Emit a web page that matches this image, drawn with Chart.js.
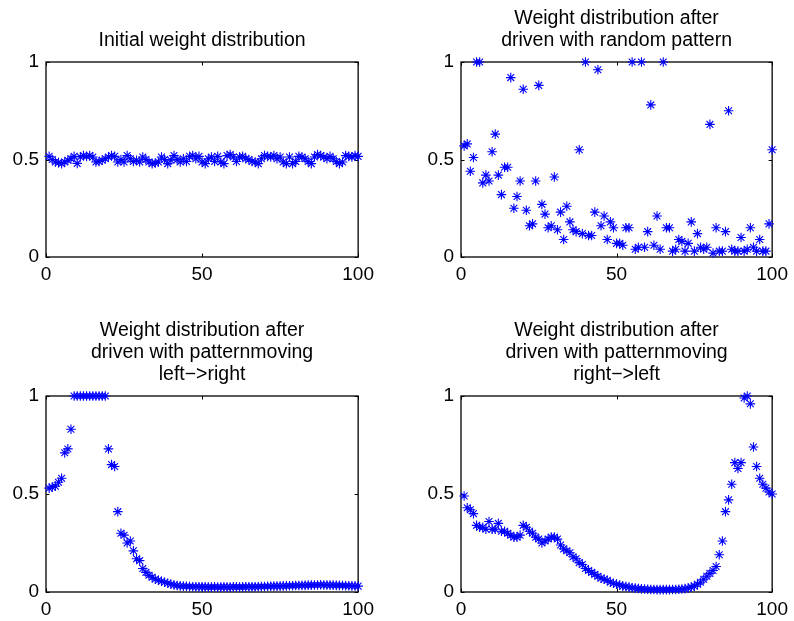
<!DOCTYPE html>
<html>
<head>
<meta charset="utf-8">
<script src="https://cdn.jsdelivr.net/npm/chart.js@4.4.0/dist/chart.umd.min.js"></script>
<style>
    body { margin: 0; background: #fff; width: 794px; height: 621px; position: relative; overflow: hidden; }
    canvas { position: absolute; }
</style>
</head>
<body>
<canvas id="c1"></canvas>
<canvas id="c2"></canvas>
<canvas id="c3"></canvas>
<canvas id="c4"></canvas>
<script>
// Neuron index 1..100 on the x axis
const neuronIndex = Array.from({ length: 100 }, (_, i) => i + 1);
const xTicks = [0, 50, 100];
const yTicks = [0, 0.5, 1];

const initialWeights = [
    0.516, 0.50, 0.487, 0.484, 0.479, 0.487, 0.496, 0.504, 0.516, 0.48,
    0.513, 0.52, 0.516, 0.52, 0.513, 0.487, 0.49, 0.496, 0.504, 0.513,
    0.52, 0.516, 0.487, 0.50, 0.487, 0.52, 0.504, 0.49, 0.496, 0.487,
    0.513, 0.50, 0.487, 0.479, 0.482, 0.487, 0.513, 0.50, 0.479, 0.496,
    0.52, 0.50, 0.487, 0.504, 0.49, 0.516, 0.52, 0.504, 0.516, 0.487,
    0.479, 0.504, 0.513, 0.49, 0.516, 0.487, 0.479, 0.52, 0.526, 0.513,
    0.49, 0.513, 0.516, 0.504, 0.50, 0.49, 0.487, 0.479, 0.504, 0.52,
    0.516, 0.513, 0.52, 0.504, 0.513, 0.487, 0.479, 0.513, 0.479, 0.49,
    0.516, 0.513, 0.504, 0.49, 0.479, 0.513, 0.526, 0.52, 0.513, 0.504,
    0.516, 0.504, 0.49, 0.479, 0.487, 0.52, 0.516, 0.513, 0.52, 0.516
];

const randomPatternWeights = [
    0.57, 0.58, 0.44, 0.51, 1.0, 1.0, 0.38, 0.42, 0.39, 0.54,
    0.63, 0.42, 0.32, 0.46, 0.46, 0.92, 0.25, 0.31, 0.39, 0.86,
    0.24, 0.16, 0.17, 0.39, 0.88, 0.27, 0.22, 0.15, 0.16, 0.41,
    0.14, 0.23, 0.09, 0.26, 0.18, 0.14, 0.13, 0.55, 0.12, 1.0,
    0.11, 0.11, 0.23, 0.96, 0.16, 0.21, 0.09, 0.18, 0.15, 0.07,
    0.07, 0.06, 0.15, 0.15, 1.0, 0.04, 0.05, 1.0, 0.05, 0.13,
    0.78, 0.06, 0.21, 0.04, 1.0, 0.15, 0.15, 0.03, 0.04, 0.09,
    0.08, 0.03, 0.07, 0.18, 0.03, 0.12, 0.05, 0.04, 0.05, 0.68,
    0.02, 0.15, 0.03, 0.03, 0.13, 0.75, 0.04, 0.03, 0.03, 0.10,
    0.03, 0.04, 0.15, 0.05, 0.03, 0.09, 0.03, 0.03, 0.17, 0.55
];

const leftToRightWeights = [
    0.53, 0.535, 0.54, 0.56, 0.58, 0.71, 0.73, 0.83, 1.0, 1.0,
    1.0, 1.0, 1.0, 1.0, 1.0, 1.0, 1.0, 1.0, 1.0, 0.73,
    0.65, 0.64, 0.41, 0.30, 0.29, 0.25, 0.26, 0.21, 0.17, 0.16,
    0.12, 0.10, 0.085, 0.075, 0.065, 0.06, 0.055, 0.05, 0.045, 0.04,
    0.036, 0.033, 0.031, 0.03, 0.029, 0.028, 0.027, 0.027, 0.026, 0.026,
    0.026, 0.025, 0.025, 0.026, 0.025, 0.025, 0.026, 0.025, 0.025, 0.026,
    0.026, 0.025, 0.026, 0.026, 0.027, 0.026, 0.027, 0.027, 0.028, 0.028,
    0.029, 0.029, 0.03, 0.03, 0.03, 0.031, 0.031, 0.032, 0.032, 0.033,
    0.033, 0.034, 0.034, 0.035, 0.035, 0.036, 0.036, 0.037, 0.036, 0.036,
    0.035, 0.035, 0.034, 0.034, 0.033, 0.032, 0.032, 0.031, 0.031, 0.03
];

const rightToLeftWeights = [
    0.49, 0.43, 0.42, 0.40, 0.34, 0.33, 0.33, 0.32, 0.36, 0.32,
    0.32, 0.35, 0.31, 0.31, 0.30, 0.29, 0.28, 0.28, 0.29, 0.34,
    0.33, 0.31, 0.30, 0.28, 0.27, 0.25, 0.26, 0.27, 0.28, 0.28,
    0.27, 0.24, 0.22, 0.21, 0.20, 0.18, 0.17, 0.15, 0.14, 0.12,
    0.11, 0.10, 0.09, 0.08, 0.07, 0.065, 0.06, 0.05, 0.045, 0.04,
    0.035, 0.03, 0.028, 0.025, 0.022, 0.02, 0.018, 0.016, 0.015, 0.014,
    0.013, 0.013, 0.012, 0.012, 0.012, 0.012, 0.012, 0.013, 0.013, 0.014,
    0.015, 0.017, 0.02, 0.025, 0.03, 0.04, 0.05, 0.065, 0.08, 0.095,
    0.11, 0.13, 0.19, 0.26, 0.41, 0.47, 0.55, 0.66, 0.63, 0.66,
    0.99, 1.0, 0.96, 0.74, 0.64, 0.58, 0.55, 0.53, 0.51, 0.50
];

// Panel layout: axes box position on the page (left, top, right, bottom)
const panels = [
    { id: 'c1', box: [46, 62, 362, 257], title: ['Initial weight distribution'], values: initialWeights },
    { id: 'c2', box: [461, 62, 776, 257], title: ['Weight distribution after', 'driven with random pattern'], values: randomPatternWeights },
    { id: 'c3', box: [46, 396, 362, 592], title: ['Weight distribution after', 'driven with patternmoving', 'left\u2212>right'], values: leftToRightWeights },
    { id: 'c4', box: [461, 396, 776, 592], title: ['Weight distribution after', 'driven with patternmoving', 'right\u2212>left'], values: rightToLeftWeights }
];

const FONT = 'Liberation Sans, Arial, Helvetica, sans-serif';
const Y_AXIS_W = 46;
const X_AXIS_H = 29;
const RIGHT_PAD = 18;
const TITLE_LINE = 22;
const TITLE_PAD = { top: 4, bottom: 10 };

// MATLAB-like box with inward tick marks on all four sides
const matlabBox = {
    id: 'matlabBox',
    beforeDatasetsDraw(chart) {
        const { ctx, chartArea: a, scales } = chart;
        const tl = 3.5;
        ctx.save();
        ctx.strokeStyle = '#000';
        ctx.lineWidth = 1.3;
        ctx.strokeRect(a.left, a.top, a.right - a.left, a.bottom - a.top);
        ctx.lineWidth = 1;
        ctx.beginPath();
        xTicks.forEach(v => {
            const px = Math.round(scales.x.getPixelForValue(v)) + 0.5;
            ctx.moveTo(px, a.bottom); ctx.lineTo(px, a.bottom - tl);
            ctx.moveTo(px, a.top); ctx.lineTo(px, a.top + tl);
        });
        yTicks.forEach(v => {
            const py = Math.round(scales.y.getPixelForValue(v)) + 0.5;
            ctx.moveTo(a.left, py); ctx.lineTo(a.left + tl, py);
            ctx.moveTo(a.right, py); ctx.lineTo(a.right - tl, py);
        });
        ctx.stroke();
        ctx.restore();
    }
};

panels.forEach(p => {
    const [L, T, R, B] = p.box;
    const titleH = TITLE_PAD.top + TITLE_PAD.bottom + TITLE_LINE * p.title.length;
    const canvas = document.getElementById(p.id);
    const w = Y_AXIS_W + (R - L) + RIGHT_PAD;
    const h = titleH + (B - T) + X_AXIS_H;
    canvas.width = w;
    canvas.height = h;
    canvas.style.width = w + 'px';
    canvas.style.height = h + 'px';
    canvas.style.left = (L - Y_AXIS_W) + 'px';
    canvas.style.top = (T - titleH) + 'px';

    new Chart(canvas.getContext('2d'), {
        type: 'scatter',
        data: {
            datasets: [{
                data: neuronIndex.map((x, i) => ({ x: x, y: p.values[i] })),
                pointStyle: 'star',
                pointRadius: 4.8,
                pointBorderWidth: 1.1,
                borderColor: '#0000ff',
                backgroundColor: '#0000ff',
                clip: false
            }]
        },
        options: {
            responsive: false,
            animation: false,
            devicePixelRatio: 1,
            layout: { padding: { left: 0, right: RIGHT_PAD, top: 0, bottom: 0 } },
            plugins: {
                legend: { display: false },
                tooltip: { enabled: false },
                title: {
                    display: true,
                    fullSize: false,
                    text: p.title,
                    color: '#000',
                    padding: TITLE_PAD,
                    font: { family: FONT, size: 19.5, weight: 'normal', lineHeight: TITLE_LINE / 19.5 }
                }
            },
            scales: {
                x: {
                    type: 'linear',
                    min: 0,
                    max: 100,
                    afterFit: s => { s.height = X_AXIS_H; },
                    afterBuildTicks: s => { s.ticks = xTicks.map(v => ({ value: v })); },
                    grid: { display: false, drawTicks: false },
                    border: { display: false },
                    ticks: { color: '#000', padding: 6, maxRotation: 0, font: { family: FONT, size: 19 } }
                },
                y: {
                    min: 0,
                    max: 1,
                    afterFit: s => { s.width = Y_AXIS_W; },
                    afterBuildTicks: s => { s.ticks = yTicks.map(v => ({ value: v })); },
                    grid: { display: false, drawTicks: false },
                    border: { display: false },
                    ticks: { color: '#000', padding: 7, font: { family: FONT, size: 19 }, callback: v => String(v) }
                }
            }
        },
        plugins: [matlabBox]
    });
});
</script>
</body>
</html>
